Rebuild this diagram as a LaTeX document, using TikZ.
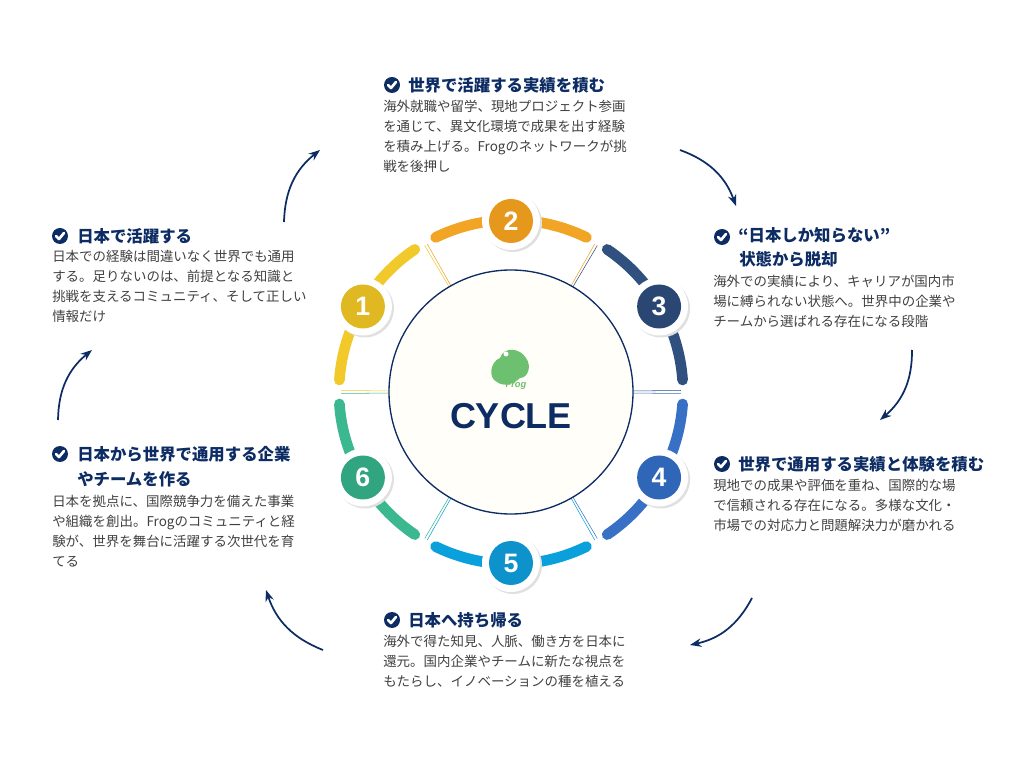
\documentclass[tikz,border=0pt]{standalone}
\usepackage{fontspec}
\setmainfont{Liberation Sans}
\newfontfamily\jp{Noto Sans CJK JP}
\usetikzlibrary{calc,arrows.meta}
\definecolor{navy}{HTML}{0D2C63}
\definecolor{cA}{HTML}{F2C92A}\definecolor{dA}{HTML}{E0B822}
\definecolor{cB}{HTML}{F2A424}\definecolor{dB}{HTML}{E6981C}
\definecolor{cC}{HTML}{30507F}\definecolor{dC}{HTML}{2A4673}
\definecolor{cD}{HTML}{3770C4}\definecolor{dD}{HTML}{3066B8}
\definecolor{cE}{HTML}{0AA0DC}\definecolor{dE}{HTML}{0E92CC}
\definecolor{cF}{HTML}{3BB890}\definecolor{dF}{HTML}{31A480}
\definecolor{frog}{HTML}{6CC070}
\tikzset{
  every node/.style = {font = \jp},
  >={Stealth[length=3mm]},
  title/.style = {anchor=west, inner sep=0pt, text=navy, font=\jp\bfseries\fontsize{12.3}{14}\selectfont},
  body/.style = {anchor=north west, inner sep=0pt, align=left, text=black!75,
                 font=\jp\fontsize{10.1}{15}\selectfont},
  flow/.style = {->, navy, line width=1.3pt},
}
\newcommand{\checkmarkicon}[1]{%
  \fill[navy] (#1) circle (8);
  \draw[white, line width=2pt, line cap=round, line join=round]
    ($(#1)+(-4,0)$) -- ($(#1)+(-1,-3)$) -- ($(#1)+(4,3)$);}
\begin{document}
\begin{tikzpicture}[x=0.75pt,y=0.75pt]
  \useasboundingbox (0,0) rectangle (1024,768);
  \coordinate (C) at (511,376);

  % ring segments and badges
  \foreach \ang/\col/\dcol/\num in {150/cA/dA/1, 90/cB/dB/2, 30/cC/dC/3,
                                    -30/cD/dD/4, -90/cE/dE/5, 210/cF/dF/6}{
    \draw[\col, line width=8pt, line cap=round]
      ($(C)+(\ang+26:172)$) arc[start angle=\ang+26, end angle=\ang-26, radius=172];
    \draw[\col, line width=0.4pt] ($(C)+(\ang+29.5:122)$) -- ($(C)+(\ang+29.5:170)$);
    \draw[\col, line width=0.4pt] ($(C)+(\ang-29.5:122)$) -- ($(C)+(\ang-29.5:170)$);
    \fill[black!12] ($(C)+(\ang:171)+(2,-2)$) circle (29);
    \fill[white] ($(C)+(\ang:171)$) circle (29);
    \node[circle, fill=\dcol, minimum size=44pt*0.75, inner sep=0pt, text=white,
          font=\bfseries\fontsize{20}{20}\selectfont] (b\num) at ($(C)+(\ang:171)$) {\num};
  }

  % center disc
  \node[circle, draw=navy, line width=1pt, fill={rgb,255:red,255;green,254;blue,248},
        minimum size=244pt*0.75] (hub) at (C) {};
  \node[font=\bfseries\fontsize{27}{27}\selectfont, text=navy] (cycle) at (511,352) {CYCLE};
  \fill[frog] (497,386) .. controls (488,390) and (490,406) .. (500,410)
    .. controls (504,422) and (520,420) .. (526,410)
    .. controls (532,402) and (528,390) .. (520,390)
    .. controls (512,382) and (502,382) .. (497,386);
  \fill[white] (506,414) circle (2.5);
  \node[text=frog, font=\itshape\bfseries\fontsize{7}{7}\selectfont] (logo) at (516,383) {Frog};

  % texts
  \checkmarkicon{392,683}
  \node[title] (t2) at (408,683) {世界で活躍する実績を積む};
  \node[body] (d2) at (383,668) {海外就職や留学、現地プロジェクト参画\\を通じて、異文化環境で成果を出す経験\\を積み上げる。Frogのネットワークが挑\\戦を後押し};

  \checkmarkicon{60,532}
  \node[title] (t1) at (77,532) {日本で活躍する};
  \node[body] (d1) at (52,518) {日本での経験は間違いなく世界でも通用\\する。足りないのは、前提となる知識と\\挑戦を支えるコミュニティ、そして正しい\\情報だけ};

  \checkmarkicon{722,531}
  \node[title] (t3) at (738,533) {“日本しか知らない”};
  \node[title] (t3b) at (739,509) {状態から脱却};
  \node[body] (d3) at (713,493) {海外での実績により、キャリアが国内市\\場に縛られない状態へ。世界中の企業や\\チームから選ばれる存在になる段階};

  \checkmarkicon{722,304}
  \node[title] (t4) at (738,304) {世界で通用する実績と体験を積む};
  \node[body] (d4) at (713,289) {現地での成果や評価を重ね、国際的な場\\で信頼される存在になる。多様な文化・\\市場での対応力と問題解決力が磨かれる};

  \checkmarkicon{392,148}
  \node[title] (t5) at (408,148) {日本へ持ち帰る};
  \node[body] (d5) at (383,133) {海外で得た知見、人脈、働き方を日本に\\還元。国内企業やチームに新たな視点を\\もたらし、イノベーションの種を植える};

  \checkmarkicon{60,314}
  \node[title] (t6) at (77,314) {日本から世界で通用する企業};
  \node[title] (t6b) at (77,289) {やチームを作る};
  \node[body] (d6) at (52,273) {日本を拠点に、国際競争力を備えた事業\\や組織を創出。Frogのコミュニティと経\\験が、世界を舞台に活躍する次世代を育\\てる};

  % cycle arrows
  \coordinate (a1s) at (284,546); \coordinate (a1e) at (320,618);
  \coordinate (a2s) at (680,618); \coordinate (a2e) at (736,562);
  \coordinate (a3s) at (912,418); \coordinate (a3e) at (880,348);
  \coordinate (a4s) at (752,170); \coordinate (a4e) at (690,123);
  \coordinate (a5s) at (323,118); \coordinate (a5e) at (266,178);
  \coordinate (a6s) at (58,348);  \coordinate (a6e) at (92,418);
  \draw[flow] (a1s) to[bend left=25] (a1e);
  \draw[flow] (a2s) to[bend left=25] (a2e);
  \draw[flow] (a3s) to[bend left=25] (a3e);
  \draw[flow] (a4s) to[bend left=25] (a4e);
  \draw[flow] (a5s) to[bend left=25] (a5e);
  \draw[flow] (a6s) to[bend left=25] (a6e);
\end{tikzpicture}
\end{document}
